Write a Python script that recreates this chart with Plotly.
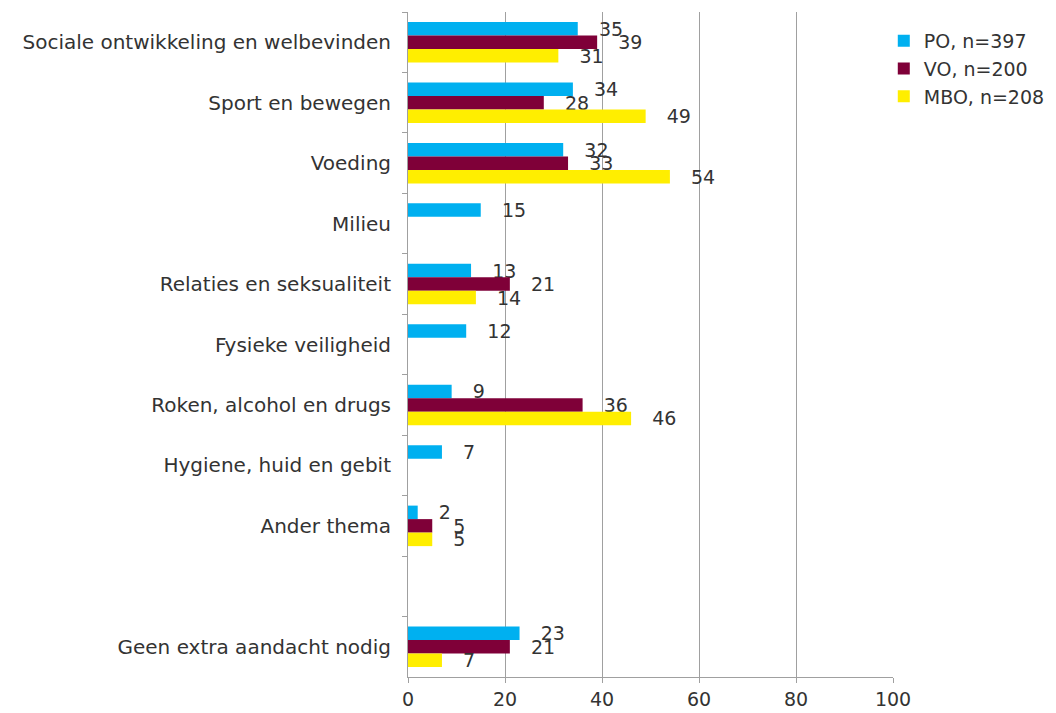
import plotly.graph_objects as go

# Categories, top to bottom (blank slot before the last one)
categories = [
    "Sociale ontwikkeling en welbevinden",
    "Sport en bewegen",
    "Voeding",
    "Milieu",
    "Relaties en seksualiteit",
    "Fysieke veiligheid",
    "Roken, alcohol en drugs",
    "Hygiene, huid en gebit",
    "Ander thema",
    " ",
    "Geen extra aandacht nodig",
]

po_values = [35, 34, 32, 15, 13, 12, 9, 7, 2, None, 23]
vo_values = [39, 28, 33, None, 21, None, 36, None, 5, None, 21]
mbo_values = [31, 49, 54, None, 14, None, 46, None, 5, None, 7]

series = [
    ("PO, n=397", po_values, "#00b0f0"),
    ("VO, n=200", vo_values, "#7f0038"),
    ("MBO, n=208", mbo_values, "#ffee00"),
]

font_family = "DejaVu Sans"
pad = "\u00a0\u00a0\u00a0"  # push value labels a little away from bar ends

fig = go.Figure()
for name, values, color in series:
    fig.add_trace(go.Bar(
        y=categories, x=values, name=name, orientation="h",
        marker=dict(color=color, line=dict(width=0)),
        text=[pad + str(v) if v is not None else "" for v in values],
        textposition="outside", constraintext="none",
        textfont=dict(size=19, color="#333333", family=font_family),
        cliponaxis=False,
    ))

# the page body adds an 8px offset, so the figure is 8px smaller
fig.update_layout(
    barmode="group",
    bargap=0.33,
    bargroupgap=0,
    width=1048, height=705,
    margin=dict(l=400, r=163, t=4, b=36),
    plot_bgcolor="white", paper_bgcolor="white",
    font=dict(family=font_family, size=19, color="#333333"),
    legend=dict(x=0.981, y=0.985, xanchor="left", yanchor="top",
                font=dict(size=19), itemwidth=30, tracegroupgap=0,
                bgcolor="rgba(0,0,0,0)"),
    showlegend=True,
)
fig.update_xaxes(
    range=[0, 100], tickvals=[0, 20, 40, 60, 80, 100],
    showgrid=True, gridcolor="#a0a0a0", gridwidth=1,
    showline=True, linecolor="#a0a0a0",
    ticks="outside", ticklen=5, tickcolor="#a0a0a0",
    tickfont=dict(size=19), zeroline=False, automargin=False,
)
fig.update_yaxes(
    categoryorder="array", categoryarray=categories, autorange="reversed",
    showline=True, linecolor="#a0a0a0",
    ticks="outside", ticklen=5, tickcolor="#a0a0a0", tickson="boundaries",
    tickfont=dict(size=20), ticklabelstandoff=12, automargin=False,
)

fig.write_html("out.html")
